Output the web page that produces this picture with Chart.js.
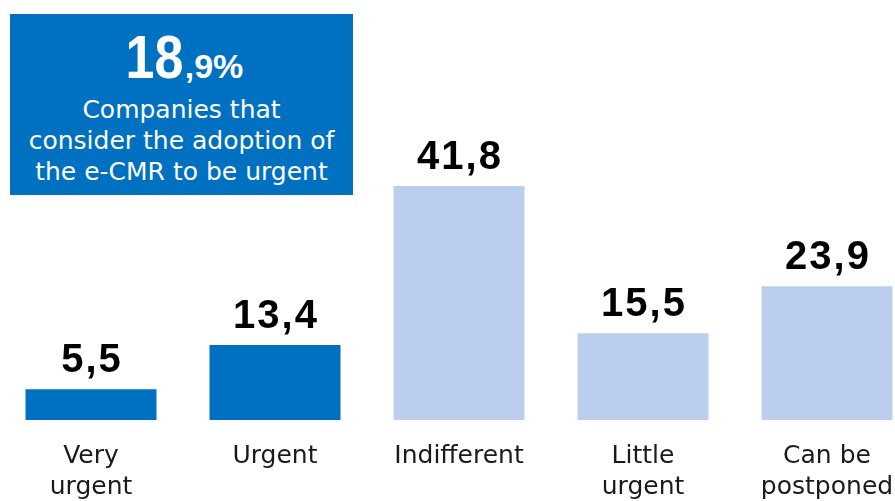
<!doctype html>
<html lang="en">
<head>
    <meta charset="utf-8">
    <title>e-CMR urgency</title>
    <script src="https://cdn.jsdelivr.net/npm/chart.js"></script>
    <style>
        html, body {
            margin: 0;
            padding: 0;
            background: #fff;
            overflow: hidden;
            width: 895px;
            height: 501px;
        }

        .chartWrap {
            position: absolute;
            left: -1px;
            top: 0;
            width: 920px;
            height: 501px;
        }

        .highlight {
            position: absolute;
            left: 10px;
            top: 14px;
            width: 343px;
            height: 181px;
            background: #0070C0;
            color: #fff;
            text-align: center;
        }

        .highlight .big {
            margin-top: 12px;
            height: 62px;
            line-height: 62px;
            font-family: "Liberation Sans", sans-serif;
            font-weight: bold;
            white-space: nowrap;
        }

        .highlight .big .whole {
            display: inline-block;
            font-size: 62px;
            transform: scaleX(0.84);
            margin-right: -6px;
        }

        .highlight .big .dec {
            font-size: 34px;
            margin-left: 2px;
        }

        .highlight .desc {
            margin-top: 6px;
            font-family: "DejaVu Sans", sans-serif;
            font-size: 25px;
            line-height: 31px;
        }
    </style>
</head>
<body>
    <div class="chartWrap">
        <canvas id="myChart" width="920" height="501"></canvas>
    </div>
    <div class="highlight">
        <div class="big"><span class="whole">18</span><span class="dec">,9%</span></div>
        <div class="desc">Companies that<br>consider the adoption of<br>the e-CMR to be urgent</div>
    </div>

    <script>
        const categories = [['Very', 'urgent'], 'Urgent', 'Indifferent', ['Little', 'urgent'], ['Can be', 'postponed']];
        const shares = [5.5, 13.4, 41.8, 15.5, 23.9];
        const barColors = ['#0070C0', '#0070C0', '#BBCEEE', '#BBCEEE', '#BBCEEE'];

        // writes the value above each bar, decimal comma style
        const valueLabels = {
            id: 'valueLabels',
            afterDatasetsDraw(chart) {
                const ctx = chart.ctx;
                const meta = chart.getDatasetMeta(0);
                ctx.save();
                ctx.fillStyle = '#000';
                ctx.font = 'bold 40px "Liberation Sans", Arial, sans-serif';
                ctx.letterSpacing = '2px';
                ctx.textAlign = 'center';
                ctx.textBaseline = 'alphabetic';
                meta.data.forEach((bar, i) => {
                    const txt = shares[i].toFixed(1).replace('.', ',');
                    ctx.fillText(txt, bar.x + 1, bar.y - 17);
                });
                ctx.restore();
            }
        };

        const myChart = new Chart(document.getElementById('myChart'), {
            type: 'bar',
            data: {
                labels: categories,
                datasets: [{
                    data: shares,
                    backgroundColor: barColors,
                    categoryPercentage: 1,
                    barPercentage: 0.712
                }]
            },
            options: {
                responsive: false,
                animation: false,
                layout: { padding: 0 },
                plugins: {
                    legend: { display: false },
                    tooltip: { enabled: false }
                },
                scales: {
                    x: {
                        grid: { display: false, drawTicks: false },
                        border: { display: false },
                        afterFit(scale) {
                            scale.height = 81;
                        },
                        ticks: {
                            color: '#1a1a1a',
                            padding: 21,
                            maxRotation: 0,
                            autoSkip: false,
                            font: { family: '"DejaVu Sans", sans-serif', size: 25, lineHeight: 1.25 }
                        }
                    },
                    y: {
                        display: false,
                        min: 0,
                        max: 75
                    }
                }
            },
            plugins: [valueLabels]
        });
    </script>
</body>
</html>
